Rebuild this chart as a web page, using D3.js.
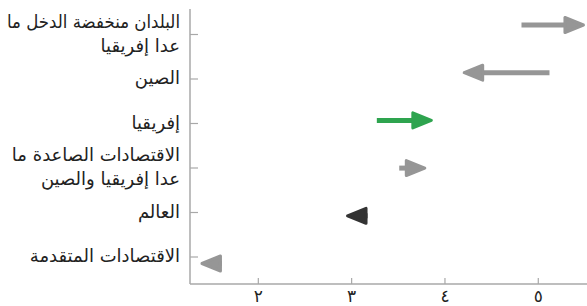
<!DOCTYPE html>
<html>
<head>
<meta charset="utf-8">
<script src="https://cdn.jsdelivr.net/npm/d3@7"></script>
<style>
  body { margin: 0; background: #fff; }
  text { font-family: "DejaVu Sans", sans-serif; fill: #222; }
</style>
</head>
<body>
<svg id="chart" width="587" height="306"></svg>
<script>
'use strict';

/* Data */

var categories = [
    ['البلدان منخفضة الدخل ما', 'عدا إفريقيا'],
    ['الصين'],
    ['إفريقيا'],
    ['الاقتصادات الصاعدة ما', 'عدا إفريقيا والصين'],
    ['العالم'],
    ['الاقتصادات المتقدمة']
];
var fromValues = [4.82, 5.12, 3.27, 3.51, 3.17, 1.61];
var toValues = [5.50, 4.19, 3.87, 3.80, 2.94, 1.38];
var arrowColors = ['#969696', '#969696', '#2ea44f', '#969696', '#333333', '#969696'];
var xTicks = [2, 3, 4, 5];

var svg = d3.select('#chart');
var axisLeft = 190, axisBottom = 284, right = 587;

var x = d3.scaleLinear().domain([1.268, 5.522]).range([axisLeft, right]);
var rows = d3.range(categories.length);
// labels and ticks
var yTick = d3.scalePoint().domain(rows).range([34.5, 257]);
// arrows sit on a slightly wider spread
var yArrow = d3.scalePoint().domain(rows).range([25, 263.5]);

var arabicDigits = function (d) {
    return String(d).replace(/\d/g, function (c) { return '٠١٢٣٤٥٦٧٨٩'[+c]; });
};

// axes
var axisColor = '#a8a8a8';
svg.append('line')
    .attr('x1', axisLeft).attr('x2', axisLeft)
    .attr('y1', 9).attr('y2', axisBottom)
    .attr('stroke', axisColor).attr('stroke-width', 1.5);
svg.append('line')
    .attr('x1', axisLeft).attr('x2', right)
    .attr('y1', axisBottom).attr('y2', axisBottom)
    .attr('stroke', axisColor).attr('stroke-width', 1.5);

svg.selectAll('.ytick').data(rows).enter().append('line')
    .attr('class', 'ytick')
    .attr('x1', axisLeft).attr('x2', axisLeft + 8)
    .attr('y1', function (d) { return yTick(d); })
    .attr('y2', function (d) { return yTick(d); })
    .attr('stroke', axisColor).attr('stroke-width', 1.2);

svg.selectAll('.xtick').data(xTicks).enter().append('line')
    .attr('class', 'xtick')
    .attr('x1', function (d) { return x(d); })
    .attr('x2', function (d) { return x(d); })
    .attr('y1', axisBottom - 6).attr('y2', axisBottom)
    .attr('stroke', axisColor).attr('stroke-width', 1.2);

svg.selectAll('.xlabel').data(xTicks).enter().append('text')
    .attr('class', 'xlabel')
    .attr('x', function (d) { return x(d); })
    .attr('y', 302)
    .attr('text-anchor', 'middle')
    .style('font-size', '17px')
    .text(arabicDigits);

// category labels, one text per line so long lines can be squeezed
var lineH = 24, labelRight = 180, maxW = 173;
rows.forEach(function (i) {
    var lines = categories[i];
    var top = yTick(i) - (lines.length - 1) * lineH / 2;
    lines.forEach(function (l, j) {
        var t = svg.append('text')
            .attr('class', 'ylabel')
            .attr('x', labelRight)
            .attr('y', top + j * lineH - 1)
            .attr('dy', '0.35em')
            .attr('text-anchor', 'end')
            .style('font-size', '18px')
            .text(l);
        var w = t.node().getComputedTextLength();
        if (w > maxW) {
            t.attr('textLength', maxW).attr('lengthAdjust', 'spacingAndGlyphs');
        }
    });
});

// arrows
var headLen = 20, headHalf = 7.5;
var arrows = svg.selectAll('.arrow').data(rows).enter().append('g')
    .attr('class', 'arrow');
arrows.each(function (i) {
    var g = d3.select(this);
    var x0 = x(fromValues[i]), x1 = x(toValues[i]), y = yArrow(i);
    var dir = x1 > x0 ? 1 : -1;
    var base = x1 - dir * headLen;
    var col = arrowColors[i];
    if ((base - x0) * dir > 0) {
        g.append('line')
            .attr('x1', x0).attr('x2', base + dir * 2)
            .attr('y1', y).attr('y2', y)
            .attr('stroke', col).attr('stroke-width', 5);
    }
    var tip = x1 - dir * 1.5;
    g.append('path')
        .attr('d', 'M' + tip + ',' + y + 'L' + base + ',' + (y - headHalf) + 'L' + base + ',' + (y + headHalf) + 'Z')
        .attr('fill', col)
        .attr('stroke', col)
        .attr('stroke-width', 3)
        .attr('stroke-linejoin', 'round');
});
</script>
</body>
</html>
